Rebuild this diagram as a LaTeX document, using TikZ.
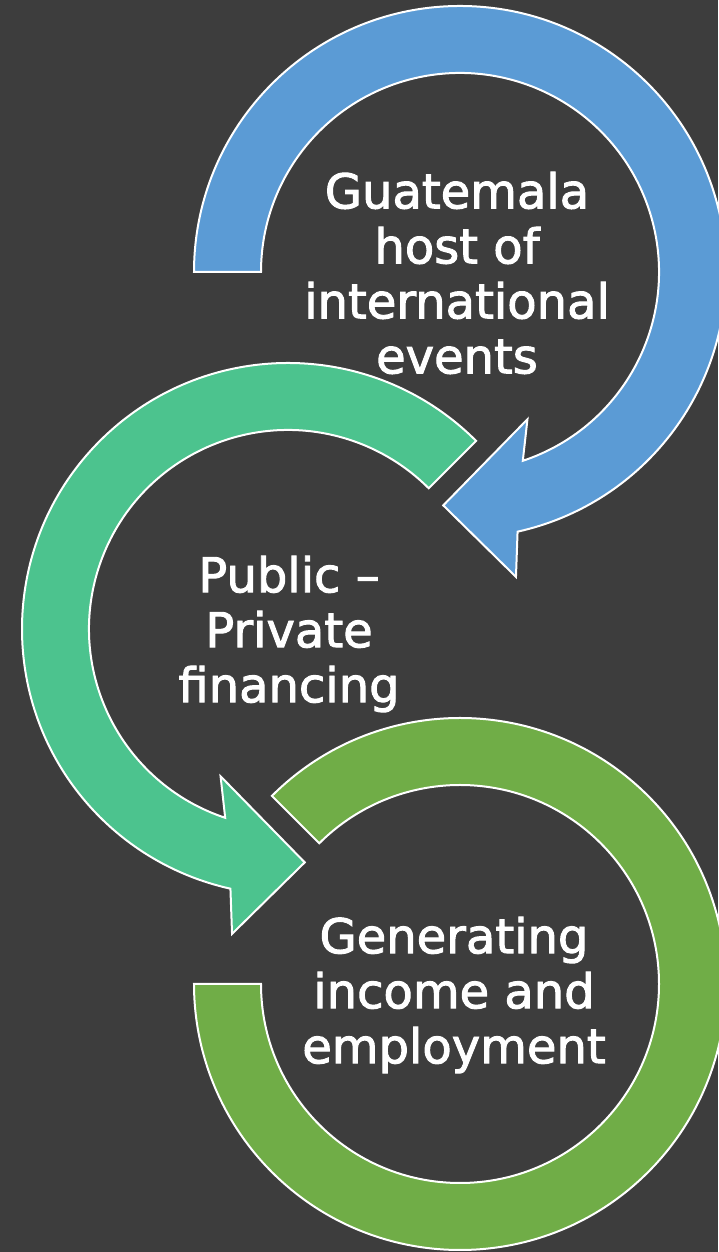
\documentclass[tikz,border=0pt]{standalone}
\usepackage{fontspec}
\setmainfont{DejaVu Sans}
\newfontface\ringfont{DejaVu Sans}[FakeBold=2]
\usetikzlibrary{calc}
\definecolor{slate}{HTML}{3D3D3D}
\definecolor{skyblue}{HTML}{5B9BD5}
\definecolor{seagreen}{HTML}{4CC38E}
\definecolor{leafgreen}{HTML}{70AD47}
\tikzset{
	ring/.style={draw=white, line width=2pt, line join=miter},
	ringtext/.style={text=white, align=center, inner sep=0pt, font=\ringfont\fontsize{48}{55}\selectfont}
}

\begin{document}
\begin{tikzpicture}[x=1pt,y=1pt]
		%%%%% START %%%%%
		
		\useasboundingbox (0,0) rectangle (718,1252);
		\fill[slate] (0,0) rectangle (718,1252);
		
		\coordinate (hostC) at (460,980);
		\coordinate (fundC) at (288,623);
		\coordinate (jobsC) at (460,268);
		
		\draw[ring, fill=skyblue] ($(hostC)+(180:266)$) arc (180:-77.5:266)
			-- ($(hostC)+(-79.6:310)$) -- ($(hostC)+(-94.1:234)$) -- ($(hostC)+(-65.4:162)$)
			-- ($(hostC)+(-71.6:199)$) arc (-71.6:180:199) -- cycle;
		
		\draw[ring, fill=seagreen] ($(fundC)+(45:266)$) arc (45:257.5:266)
			-- ($(fundC)+(259.6:310)$) -- ($(fundC)+(274.1:234)$) -- ($(fundC)+(245.4:162)$)
			-- ($(fundC)+(251.6:199)$) arc (251.6:45:199) -- cycle;
		
		\draw[ring, fill=leafgreen] ($(jobsC)+(135:266)$) arc (135:-180:266)
			-- ($(jobsC)+(-180:199)$) arc (-180:135:199) -- cycle;
		
		\node[ringtext] (host) at (457,979) {Guatemala\\host of\\international\\events};
		\node[ringtext] (fund) at (289,618) {Public –\\Private\\financing};
		\node[ringtext] (jobs) at (454,257) {Generating\\income and\\employment};
		
		%%%%% END %%%%%
\end{tikzpicture}
\end{document}
